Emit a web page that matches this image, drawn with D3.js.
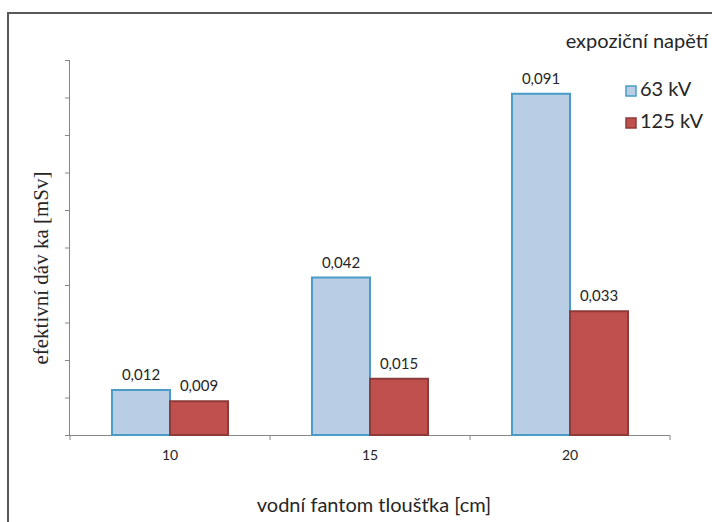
<!DOCTYPE html>
<html>
<head>
<meta charset="utf-8">
<script src="https://cdn.jsdelivr.net/npm/d3@7/dist/d3.min.js"></script>
<style>
  body { margin: 0; background: #fff; }
  svg { display: block; }
  text { font-family: Lato, "Open Sans", sans-serif; fill: #262626; }
</style>
</head>
<body>
<script>
// Phantom thickness categories and effective dose per tube voltage
const categories = ["10", "15", "20"];
const seriesNames = ["63 kV", "125 kV"];
const dose63 = [0.012, 0.042, 0.091];
const dose125 = [0.009, 0.015, 0.033];
const yTicks = [0, 0.01, 0.02, 0.03, 0.04, 0.05, 0.06, 0.07, 0.08, 0.09, 0.1];

const W = 712, H = 522;
const fills = ["#b9cde5", "#c0504d"];
const strokes = ["#4a9cc6", "#8c3b38"];

const svg = d3.select("body").append("svg").attr("width", W).attr("height", H);

// outer chart frame
svg.append("rect")
  .attr("x", 8).attr("y", 13).attr("width", W + 20).attr("height", H + 20)
  .attr("fill", "none").attr("stroke", "#595959").attr("stroke-width", 2);

const x = d3.scaleBand().domain(categories).range([70, 670]).padding(0);
const xs = d3.scaleBand().domain(seriesNames)
  .range([x.bandwidth() * 0.21, x.bandwidth() * 0.79]).padding(0);
const y = d3.scaleLinear().domain([0, 0.1]).range([435, 60]);

const czech = d3.formatLocale({ decimal: ",", thousands: " ", grouping: [3], currency: ["", " Kč"] });
const fmt = czech.format(".3f");

// y axis: ticks only, no labels
const yAxis = svg.append("g").attr("transform", "translate(70,0)")
  .call(d3.axisLeft(y).tickValues(yTicks).tickSize(5).tickFormat(""));
yAxis.selectAll("path,line").attr("stroke", "#868686");
yAxis.select(".domain").attr("d", `M-0.5,${y(0.1)}V${y(0)}`);

// x axis baseline with ticks at category boundaries
const xAxis = svg.append("g").attr("transform", `translate(0,${y(0)})`)
  .call(d3.axisBottom(x).tickSize(0).tickPadding(0).tickFormat(""));
xAxis.select(".domain").attr("stroke", "#868686").attr("d", `M${x.range()[0]},0.5H${x.range()[1]}`);
xAxis.selectAll(".tick").remove();
const bounds = categories.map(c => x(c)).concat([x(categories[categories.length - 1]) + x.bandwidth()]);
xAxis.selectAll("line.bound").data(bounds).join("line")
  .attr("class", "bound")
  .attr("x1", d => d).attr("x2", d => d).attr("y1", 0).attr("y2", 5)
  .attr("stroke", "#868686");

svg.selectAll("text.xlab").data(categories).join("text")
  .attr("class", "xlab")
  .attr("x", d => x(d) + x.bandwidth() / 2).attr("y", 460)
  .attr("text-anchor", "middle").attr("font-size", 14)
  .text(d => d);

// bars
const rows = categories.map((c, i) => ({ cat: c, vals: [dose63[i], dose125[i]] }));
const groups = svg.selectAll("g.grp").data(rows).join("g")
  .attr("class", "grp").attr("transform", d => `translate(${x(d.cat)},0)`);

groups.selectAll("rect").data(d => d.vals.map((v, k) => ({ v, k }))).join("rect")
  .attr("x", d => xs(seriesNames[d.k]))
  .attr("y", d => y(d.v))
  .attr("width", xs.bandwidth())
  .attr("height", d => y(0) - y(d.v))
  .attr("fill", d => fills[d.k])
  .attr("stroke", d => strokes[d.k])
  .attr("stroke-width", 2);

groups.selectAll("text").data(d => d.vals.map((v, k) => ({ v, k }))).join("text")
  .attr("x", d => xs(seriesNames[d.k]) + xs.bandwidth() / 2)
  .attr("y", d => y(d.v) - 10)
  .attr("text-anchor", "middle").attr("font-size", 15)
  .text(d => fmt(d.v));

// axis titles
svg.append("text")
  .attr("transform", "translate(48,268) rotate(-90)")
  .attr("text-anchor", "middle")
  .style("font-family", "'Liberation Serif', 'DejaVu Serif', serif")
  .attr("font-size", 21)
  .text("efektivní dáv ka [mSv]");

svg.append("text")
  .attr("x", 374).attr("y", 512)
  .attr("text-anchor", "middle").attr("font-size", 20)
  .text("vodní fantom tloušťka [cm]");

// legend
svg.append("text")
  .attr("x", 708).attr("y", 48)
  .attr("text-anchor", "end").attr("font-size", 20)
  .text("expoziční napětí");

const leg = svg.selectAll("g.leg").data(seriesNames).join("g")
  .attr("class", "leg")
  .attr("transform", (d, i) => `translate(626,${86 + i * 32})`);
leg.append("rect")
  .attr("width", 10).attr("height", 10)
  .attr("fill", (d, i) => fills[i]).attr("stroke", (d, i) => strokes[i]).attr("stroke-width", 1.5);
leg.append("text")
  .attr("x", 14).attr("y", 10)
  .attr("font-size", 20)
  .text(d => d);
</script>
</body>
</html>
